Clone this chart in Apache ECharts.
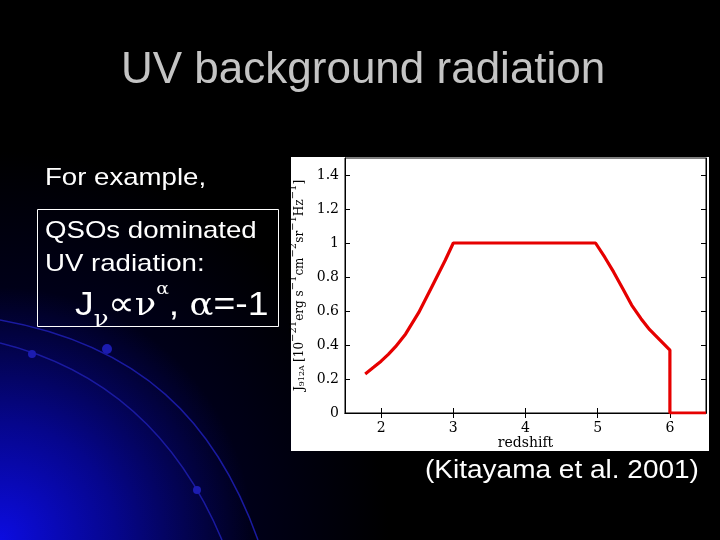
<!DOCTYPE html>
<html><head><meta charset="utf-8">
<script src="https://cdn.jsdelivr.net/npm/echarts@6/dist/echarts.min.js"></script>
<style>html,body{margin:0;padding:0;background:#000;}#c{width:720px;height:540px;}</style>
</head><body><div id="c"></div>
<script>
const redshift = [1.78, 1.9, 2.0, 2.1, 2.2, 2.34, 2.52, 2.7, 2.89, 3.0, 4.0, 4.97, 5.1, 5.22, 5.35, 5.47, 5.6, 5.72, 5.86, 6.0, 6.0, 6.5];
const J912 = [0.23, 0.27, 0.305, 0.345, 0.39, 0.465, 0.59, 0.74, 0.9, 1.0, 1.0, 1.0, 0.915, 0.83, 0.73, 0.635, 0.555, 0.49, 0.43, 0.37, 0.0, 0.0];
const xTicks = [2, 3, 4, 5, 6];
const yTicks = [0, 0.2, 0.4, 0.6, 0.8, 1, 1.2, 1.4];

const chart = echarts.init(document.getElementById('c'));
const serif = '"DejaVu Serif", "Liberation Serif", serif';
const sans = '"Liberation Sans", Arial, sans-serif';
const tickStyle = {inside: true, length: 5, lineStyle: {color: '#000', width: 1}};

chart.setOption({
  backgroundColor: '#000',
  animation: false,
  graphic: [
    {type: 'rect', z: -10, shape: {x: 0, y: 0, width: 720, height: 540},
     style: {fill: {type: 'radial', x: 0, y: 1, r: 0.72, colorStops: [
       {offset: 0, color: '#0c0ce0'}, {offset: 0.3, color: '#06068c'}, {offset: 0.65, color: '#000018'}, {offset: 1, color: '#000000'}]}}},
    {type: 'bezierCurve', z: -5, shape: {x1: 0, y1: 320, cpx1: 140, cpy1: 345, cpx2: 215, cpy2: 420, x2: 258, y2: 540},
     style: {stroke: '#1a1aa0', lineWidth: 1.5, fill: null}},
    {type: 'bezierCurve', z: -5, shape: {x1: 0, y1: 343, cpx1: 110, cpy1: 370, cpx2: 180, cpy2: 440, x2: 222, y2: 540},
     style: {stroke: '#1a1aa0', lineWidth: 1.5, fill: null}},
    {type: 'circle', z: -4, shape: {cx: 107, cy: 349, r: 5}, style: {fill: '#1c1cb0'}},
    {type: 'circle', z: -4, shape: {cx: 32, cy: 354, r: 4}, style: {fill: '#1c1cb0'}},
    {type: 'circle', z: -4, shape: {cx: 197, cy: 490, r: 4}, style: {fill: '#1c1cb0'}},
    {type: 'rect', z: -3, shape: {x: 291, y: 157, width: 418, height: 294}, style: {fill: '#fff'}},
    {type: 'text', x: 121, y: 49, style: {text: 'UV background radiation', font: '44px ' + sans, fill: '#c4c4c4',
      textShadowColor: '#555', textShadowOffsetX: 1, textShadowOffsetY: 1, textShadowBlur: 0}},
    {type: 'text', x: 45, y: 166, scaleX: 1.15, style: {text: 'For example,', font: '24px ' + sans, fill: '#fff'}},
    {type: 'rect', shape: {x: 37.5, y: 209.5, width: 241, height: 117}, style: {fill: null, stroke: '#fff', lineWidth: 1}},
    {type: 'text', x: 45, y: 219, scaleX: 1.15, style: {text: 'QSOs dominated', font: '24px ' + sans, fill: '#fff'}},
    {type: 'text', x: 45, y: 252, scaleX: 1.15, style: {text: 'UV radiation:', font: '24px ' + sans, fill: '#fff'}},
    {type: 'text', x: 75, y: 281, scaleX: 1.1, style: {
      text: '{b|J}{sub|ν}{b|∝}{g|ν}{sup|α}{b|, }{g|α}{b|=-1}',
      rich: {
        b: {font: '34px ' + sans, fill: '#fff', verticalAlign: 'bottom', lineHeight: 42},
        g: {font: '32px "DejaVu Serif", serif', fill: '#fff', verticalAlign: 'bottom', lineHeight: 42},
        sub: {font: '22px "DejaVu Serif", serif', fill: '#fff', verticalAlign: 'bottom', lineHeight: 32, padding: [0,0,-8,0]},
        sup: {font: '17px "DejaVu Serif", serif', fill: '#fff', verticalAlign: 'top', lineHeight: 36}
      }}},
    {type: 'text', x: 425, y: 459, scaleX: 1.12, style: {text: '(Kitayama et al. 2001)', font: '25px ' + sans, fill: '#fff'}}
  ],
  grid: {left: 345, right: 14, top: 158, bottom: 127, show: true, borderColor: '#000', borderWidth: 1, backgroundColor: '#fff'},
  xAxis: [
    {type: 'value', min: 1.5, max: 6.5, position: 'bottom',
     name: 'redshift', nameLocation: 'middle', nameGap: 22,
     nameTextStyle: {fontFamily: serif, fontSize: 14, color: '#000'},
     axisLine: {show: true, onZero: false, lineStyle: {color: '#000'}},
     axisTick: Object.assign({customValues: xTicks}, tickStyle),
     axisLabel: {customValues: xTicks, fontFamily: serif, fontSize: 14, color: '#000', margin: 8},
     splitLine: {show: false}},
    {type: 'value', min: 1.5, max: 6.5, position: 'top',
     axisLine: {show: true, lineStyle: {color: '#000'}},
     axisTick: Object.assign({customValues: xTicks}, tickStyle),
     axisLabel: {show: false}, splitLine: {show: false}}
  ],
  yAxis: [
    {type: 'value', min: 0, max: 1.5, position: 'left',
     name: '{t|J}{s|912A} {t|[10}{e|−21}{t|erg s}{e|−1}{t|cm}{e|−2}{t|sr}{e|−1}{t|Hz}{e|−1}{t|]}',
     nameLocation: 'middle', nameGap: 28, nameRotate: 90,
     nameTextStyle: {rich: {
       t: {fontFamily: serif, fontSize: 12, color: '#000', verticalAlign: 'bottom', lineHeight: 22},
       s: {fontFamily: serif, fontSize: 8, color: '#000', verticalAlign: 'bottom', lineHeight: 20},
       e: {fontFamily: serif, fontSize: 10, color: '#000', verticalAlign: 'bottom', lineHeight: 12, padding: [0, 0, 7, 0]}
     }},
     axisLine: {show: true, onZero: false, lineStyle: {color: '#000'}},
     axisTick: Object.assign({customValues: yTicks}, tickStyle),
     axisLabel: {customValues: yTicks, fontFamily: serif, fontSize: 14, color: '#000', margin: 6},
     splitLine: {show: false}},
    {type: 'value', min: 0, max: 1.5, position: 'right',
     axisLine: {show: true, lineStyle: {color: '#000'}},
     axisTick: Object.assign({customValues: yTicks}, tickStyle),
     axisLabel: {show: false}, splitLine: {show: false}}
  ],
  series: [{
    type: 'line', xAxisIndex: 0, yAxisIndex: 0,
    data: redshift.map((x, i) => [x, J912[i]]),
    showSymbol: false, smooth: false,
    lineStyle: {color: '#e60000', width: 3.2}, clip: true
  }]
});
</script></body></html>
